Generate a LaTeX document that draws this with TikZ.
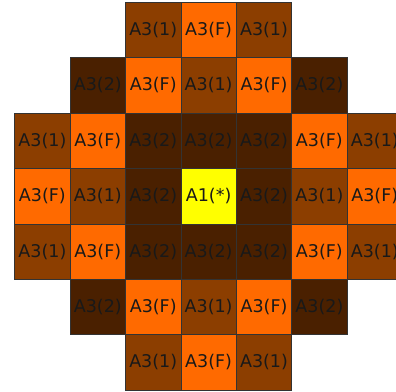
\documentclass[tikz,border=0pt]{standalone}
\usepackage{fontspec}
\newfontfamily\cellfont{DejaVu Sans}
\usetikzlibrary{positioning}
\definecolor{rust}{RGB}{140,62,0}
\definecolor{ember}{RGB}{255,106,0}
\definecolor{umber}{RGB}{74,32,0}
\definecolor{lemon}{RGB}{255,255,0}

\begin{document}
\begin{tikzpicture}[
  node distance=0pt,
  cell/.style={rectangle, draw=black!80, line width=0.8pt, minimum size=55.4pt, inner sep=0pt, outer sep=0pt, text=black!90, font=\cellfont\fontsize{17.5}{20}\selectfont},
  one/.style={cell, fill=rust},
  two/.style={cell, fill=umber},
  full/.style={cell, fill=ember},
  core/.style={cell, fill=lemon}
]
  \useasboundingbox (0,0) rectangle (396pt,391pt);

  % centre row
  \node[core] (a1) at (208.6pt,194.7pt) {A1(*)};
  \node[two, left=of a1] (w1) {A3(2)};
  \node[one, left=of w1] (w2) {A3(1)};
  \node[full, left=of w2] (w3) {A3(F)};
  \node[two, right=of a1] (e1) {A3(2)};
  \node[one, right=of e1] (e2) {A3(1)};
  \node[full, right=of e2] (e3) {A3(F)};

  % rows above
  \node[two, above=of a1] (n1) {A3(2)};
  \node[two, left=of n1] (n1w1) {A3(2)};
  \node[full, left=of n1w1] (n1w2) {A3(F)};
  \node[one, left=of n1w2] (n1w3) {A3(1)};
  \node[two, right=of n1] (n1e1) {A3(2)};
  \node[full, right=of n1e1] (n1e2) {A3(F)};
  \node[one, right=of n1e2] (n1e3) {A3(1)};

  \node[one, above=of n1] (n2) {A3(1)};
  \node[full, left=of n2] (n2w1) {A3(F)};
  \node[two, left=of n2w1] (n2w2) {A3(2)};
  \node[full, right=of n2] (n2e1) {A3(F)};
  \node[two, right=of n2e1] (n2e2) {A3(2)};

  \node[full, above=of n2] (n3) {A3(F)};
  \node[one, left=of n3] (n3w1) {A3(1)};
  \node[one, right=of n3] (n3e1) {A3(1)};

  % rows below
  \node[two, below=of a1] (s1) {A3(2)};
  \node[two, left=of s1] (s1w1) {A3(2)};
  \node[full, left=of s1w1] (s1w2) {A3(F)};
  \node[one, left=of s1w2] (s1w3) {A3(1)};
  \node[two, right=of s1] (s1e1) {A3(2)};
  \node[full, right=of s1e1] (s1e2) {A3(F)};
  \node[one, right=of s1e2] (s1e3) {A3(1)};

  \node[one, below=of s1] (s2) {A3(1)};
  \node[full, left=of s2] (s2w1) {A3(F)};
  \node[two, left=of s2w1] (s2w2) {A3(2)};
  \node[full, right=of s2] (s2e1) {A3(F)};
  \node[two, right=of s2e1] (s2e2) {A3(2)};

  \node[full, below=of s2] (s3) {A3(F)};
  \node[one, left=of s3] (s3w1) {A3(1)};
  \node[one, right=of s3] (s3e1) {A3(1)};
\end{tikzpicture}
\end{document}
